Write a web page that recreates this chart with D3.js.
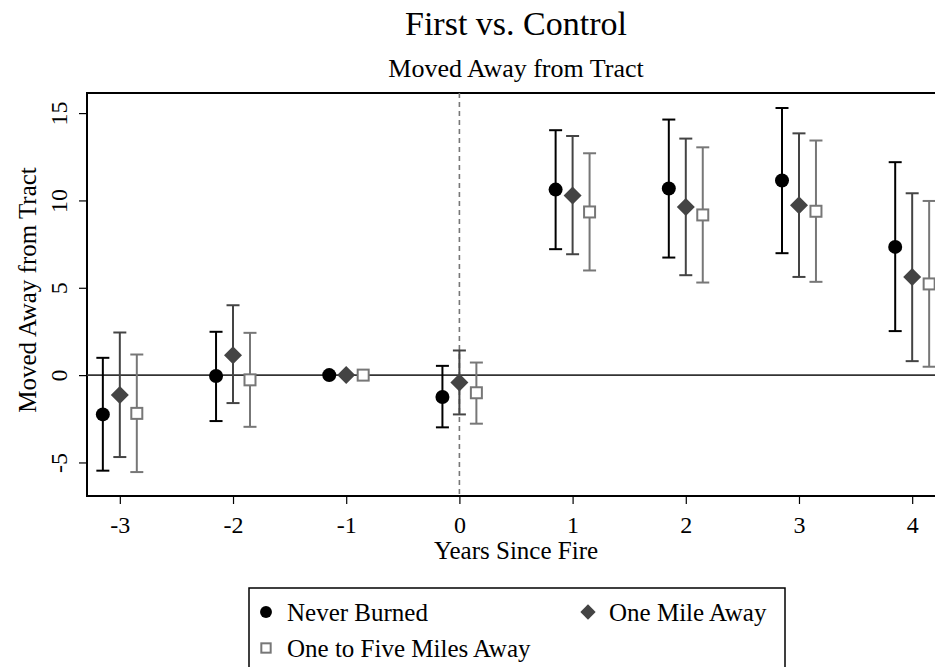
<!DOCTYPE html>
<html lang="en">
<head>
  <meta charset="UTF-8">
  <title>First vs. Control</title>
  <script src="https://d3js.org/d3.v7.min.js"></script>
  <style>
    body { margin: 0; background: #fff; }
    text { font-family: "Liberation Serif", "DejaVu Serif", serif; fill: #000; }
  </style>
</head>
<body>
  <svg id="chart" width="935" height="667"></svg>
  <script>
    // data
    const years = [-3, -2, -1, 0, 1, 2, 3, 4];
    const neverEst = [-2.25, -0.05, 0, -1.25, 10.62, 10.68, 11.14, 7.34];
    const neverLo  = [-5.47, -2.63, null, -2.99, 7.21, 6.73, 6.98, 2.52];
    const neverHi  = [0.99, 2.48, null, 0.53, 14.02, 14.63, 15.29, 12.19];
    const oneEst = [-1.14, 1.14, 0, -0.42, 10.28, 9.63, 9.73, 5.61];
    const oneLo  = [-4.69, -1.60, null, -2.25, 6.92, 5.72, 5.62, 0.80];
    const oneHi  = [2.44, 4.0, null, 1.41, 13.69, 13.54, 13.84, 10.41];
    const fiveEst = [-2.19, -0.27, 0, -1.01, 9.34, 9.17, 9.38, 5.22];
    const fiveLo  = [-5.55, -2.96, null, -2.78, 5.99, 5.30, 5.34, 0.48];
    const fiveHi  = [1.18, 2.42, null, 0.72, 12.70, 13.04, 13.43, 9.97];
    const yTicks = [-5, 0, 5, 10, 15];

    const series = [
      { name: "Never Burned", shape: "circle", color: "#000000", offset: -0.15, est: neverEst, lo: neverLo, hi: neverHi },
      { name: "One Mile Away", shape: "diamond", color: "#444444", offset: 0, est: oneEst, lo: oneLo, hi: oneHi },
      { name: "One to Five Miles Away", shape: "square", color: "#777777", offset: 0.15, est: fiveEst, lo: fiveLo, hi: fiveHi }
    ];

    const svg = d3.select("#chart");
    const plot = { left: 87, right: 945, top: 93, bottom: 496 };

    const x = d3.scaleLinear().domain([-3.29, 4.29]).range([plot.left, plot.right]);
    const y = d3.scaleLinear().domain([-6.92, 16.15]).range([plot.bottom, plot.top]);

    // titles
    svg.append("text").attr("x", 516).attr("y", 35).attr("text-anchor", "middle")
      .style("font-size", "34px").text("First vs. Control");
    svg.append("text").attr("x", 516).attr("y", 77).attr("text-anchor", "middle")
      .style("font-size", "26px").text("Moved Away from Tract");

    // frame
    svg.append("rect").attr("x", plot.left).attr("y", plot.top)
      .attr("width", plot.right - plot.left).attr("height", plot.bottom - plot.top)
      .attr("fill", "none").attr("stroke", "#000").attr("stroke-width", 2);

    // axes
    const xAxis = d3.axisBottom(x).tickValues(years).tickSize(8).tickPadding(12)
      .tickFormat(d3.format("d"));
    const xg = svg.append("g").attr("transform", `translate(0,${plot.bottom})`).call(xAxis);
    xg.select(".domain").remove();
    xg.selectAll("line").attr("stroke", "#000").attr("stroke-width", 1.2);
    xg.selectAll("text").style("font-size", "24px").style("font-family", "Liberation Serif, serif")
      .text(d => d < 0 ? "-" + Math.abs(d) : d);

    const yAxis = d3.axisLeft(y).tickValues(yTicks).tickSize(8).tickPadding(0);
    const yg = svg.append("g").attr("transform", `translate(${plot.left},0)`).call(yAxis);
    yg.select(".domain").remove();
    yg.selectAll("line").attr("stroke", "#000").attr("stroke-width", 1.2);
    yg.selectAll("text")
      .style("font-size", "24px").style("font-family", "Liberation Serif, serif")
      .attr("x", null).attr("dy", null)
      .attr("text-anchor", "middle")
      .attr("transform", "translate(-20,0) rotate(-90)")
      .text(d => d < 0 ? "-" + Math.abs(d) : d);

    // axis titles
    svg.append("text").attr("x", 516).attr("y", 559).attr("text-anchor", "middle")
      .style("font-size", "25px").text("Years Since Fire");
    svg.append("text").attr("transform", "translate(36,290) rotate(-90)")
      .attr("text-anchor", "middle").style("font-size", "25px").text("Moved Away from Tract");

    // reference lines
    svg.append("line").attr("x1", plot.left).attr("x2", plot.right)
      .attr("y1", y(0)).attr("y2", y(0)).attr("stroke", "#333").attr("stroke-width", 1.8);
    svg.append("line").attr("x1", x(0)).attr("x2", x(0))
      .attr("y1", plot.top).attr("y2", plot.bottom)
      .attr("stroke", "#777").attr("stroke-width", 1.6).attr("stroke-dasharray", "5,4");

    // marker helper
    function drawMarker(g, shape, color, cx, cy, scale) {
      const s = scale || 1;
      if (shape === "circle") {
        g.append("circle").attr("cx", cx).attr("cy", cy).attr("r", 7 * s).attr("fill", color);
      } else if (shape === "diamond") {
        const h = 9 * s;
        g.append("path")
          .attr("d", `M${cx},${cy - h}L${cx + h},${cy}L${cx},${cy + h}L${cx - h},${cy}Z`)
          .attr("fill", color);
      } else {
        const h = 5.5 * s;
        g.append("rect").attr("x", cx - h).attr("y", cy - h)
          .attr("width", 2 * h).attr("height", 2 * h)
          .attr("fill", "#fff").attr("stroke", color).attr("stroke-width", 2);
      }
    }

    const marks = svg.append("g");
    series.forEach(s => {
      const g = marks.append("g");
      years.forEach((yr, i) => {
        const cx = x(yr + s.offset);
        if (s.lo[i] != null) {
          const capW = 6.5;
          g.append("line").attr("x1", cx).attr("x2", cx)
            .attr("y1", y(s.lo[i])).attr("y2", y(s.hi[i]))
            .attr("stroke", s.color).attr("stroke-width", 2);
          [s.lo[i], s.hi[i]].forEach(v => {
            g.append("line").attr("x1", cx - capW).attr("x2", cx + capW)
              .attr("y1", y(v)).attr("y2", y(v))
              .attr("stroke", s.color).attr("stroke-width", 2);
          });
        }
      });
    });
    series.forEach(s => {
      const g = marks.append("g");
      years.forEach((yr, i) => drawMarker(g, s.shape, s.color, x(yr + s.offset), y(s.est[i])));
    });

    // legend
    const legend = svg.append("g");
    legend.append("rect").attr("x", 249).attr("y", 588).attr("width", 536).attr("height", 100)
      .attr("fill", "#fff").attr("stroke", "#000").attr("stroke-width", 1.5);
    const legPos = [[266, 612], [588, 612], [266, 648]];
    series.forEach((s, i) => {
      const [lx, ly] = legPos[i];
      drawMarker(legend, s.shape, s.color, lx, ly, 0.85);
      legend.append("text").attr("x", lx + 21).attr("y", ly + 9)
        .style("font-size", "25px").text(s.name);
    });
  </script>
</body>
</html>
